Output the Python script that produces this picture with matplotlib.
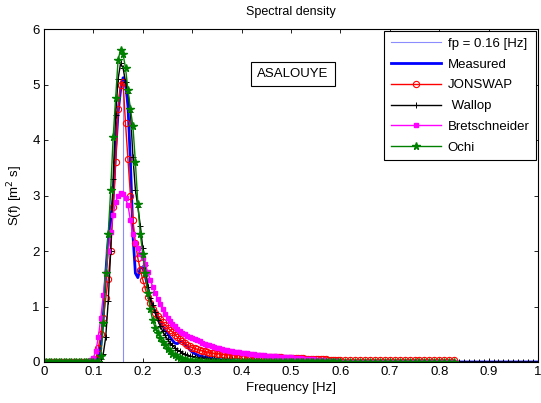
import numpy as np
import matplotlib
matplotlib.use("Agg")
import matplotlib.pyplot as plt

plt.rcParams['font.family'] = ['Liberation Sans', 'DejaVu Sans']

# ---------------- data ----------------
fp = 0.16
fp_top = 5.15

# model frequency grid pieces
f_low = np.round(np.arange(0.0, 0.0901, 0.005), 4)          # 19 pts
f_mid = np.round(np.arange(0.095, 0.5951, 0.005), 4)        # 101 pts
f_high = np.round(np.arange(0.60, 0.8301, 0.01), 4)         # 24 pts
f_high_w = np.round(np.arange(0.60, 1.0001, 0.01), 4)       # 41 pts (Wallop)

jonswap_mid = [
    0.0, 0.01, 0.06, 0.25, 0.50, 0.80, 1.15, 1.50, 2.00, 2.80, 3.60, 4.55, 5.00, 5.05,
    4.30, 3.65, 3.00, 2.55, 2.15, 1.87, 1.66, 1.48,
    1.32, 1.18, 1.06, 0.96, 0.89, 0.83, 0.77, 0.72, 0.67, 0.62, 0.58, 0.54, 0.49, 0.45,
    0.41, 0.37, 0.34, 0.31, 0.28, 0.26,
    0.245, 0.23, 0.215, 0.20, 0.19, 0.18, 0.17, 0.16, 0.155, 0.15, 0.145, 0.14, 0.135,
    0.132, 0.13, 0.127, 0.124, 0.121, 0.118, 0.115,
    0.112, 0.11, 0.108, 0.106, 0.104, 0.102, 0.10, 0.098, 0.096, 0.094, 0.092, 0.09,
    0.088, 0.086, 0.084, 0.082, 0.08, 0.078, 0.076, 0.074,
    0.072, 0.07, 0.068, 0.066, 0.064, 0.062, 0.06, 0.058, 0.056, 0.054, 0.052, 0.05,
    0.048, 0.046, 0.044, 0.042, 0.04, 0.038, 0.036]
jonswap_high = [0.035, 0.035, 0.035, 0.035, 0.035, 0.035, 0.035, 0.035, 0.035, 0.035,
                0.035, 0.035, 0.035, 0.035, 0.035, 0.035, 0.035, 0.035, 0.035, 0.035,
                0.035, 0.035, 0.035, 0.035]

wallop_mid = [
    0.0, 0.0, 0.0, 0.01, 0.05, 0.15, 0.45, 1.10, 2.00, 3.30, 4.45, 5.10, 5.38, 5.30,
    5.05, 4.85, 4.50, 3.70, 3.10, 2.80, 2.45, 2.05,
    1.75, 1.35, 1.15, 1.02, 0.90, 0.76, 0.65, 0.56, 0.48, 0.41, 0.35, 0.30, 0.26, 0.22,
    0.19, 0.165, 0.145, 0.125, 0.11, 0.10,
    0.09, 0.083, 0.077, 0.071, 0.066, 0.061, 0.056, 0.052, 0.048, 0.044, 0.041, 0.038,
    0.035, 0.032, 0.03, 0.028, 0.026, 0.024, 0.022, 0.02,
    0.019, 0.018, 0.017, 0.016, 0.015, 0.014, 0.013, 0.012, 0.011, 0.01, 0.01, 0.009,
    0.009, 0.008, 0.008, 0.007, 0.007, 0.006, 0.006, 0.005,
    0.005, 0.005, 0.004, 0.004, 0.004, 0.004, 0.003, 0.003, 0.003, 0.003, 0.003, 0.002,
    0.002, 0.002, 0.002, 0.002, 0.002, 0.001, 0.001]

bret_mid = [
    0.03, 0.08, 0.20, 0.45, 0.80, 1.20, 1.60, 2.00, 2.35, 2.65, 2.88, 3.00, 3.05, 3.02,
    2.95, 2.82, 2.55, 2.30, 2.15, 2.05, 1.95, 1.87,
    1.76, 1.62, 1.48, 1.36, 1.25, 1.14, 1.04, 0.95, 0.87, 0.80, 0.74, 0.69, 0.64, 0.60,
    0.56, 0.53, 0.50, 0.47, 0.45, 0.43,
    0.41, 0.39, 0.37, 0.35, 0.33, 0.315, 0.30, 0.285, 0.27, 0.257, 0.245, 0.234, 0.223,
    0.213, 0.204, 0.196, 0.188, 0.181, 0.174, 0.168,
    0.162, 0.156, 0.15, 0.145, 0.14, 0.135, 0.13, 0.125, 0.12, 0.116, 0.112, 0.108,
    0.104, 0.10, 0.097, 0.094, 0.091, 0.088, 0.085, 0.082,
    0.078, 0.074, 0.07, 0.066, 0.062, 0.058, 0.054, 0.05, 0.046, 0.042, 0.038, 0.034,
    0.03, 0.027, 0.024, 0.021, 0.018, 0.015, 0.012]

ochi_mid = [
    0.0, 0.0, 0.0, 0.0, 0.10, 0.70, 1.60, 2.30, 3.10, 4.05, 4.75, 5.45, 5.62, 5.55,
    5.30, 4.90, 4.55, 4.25, 3.60, 2.85, 2.30, 1.95,
    1.60, 1.25, 0.96, 0.75, 0.62, 0.52, 0.44, 0.36, 0.30, 0.24, 0.19, 0.15, 0.12, 0.095,
    0.075, 0.06, 0.045, 0.035, 0.027, 0.02,
    0.016, 0.013, 0.01, 0.008, 0.006, 0.005, 0.004, 0.003, 0.002, 0.002, 0.001, 0.001,
    0.001, 0.0, 0.0, 0.0, 0.0, 0.0, 0.0, 0.0,
    0.0, 0.0, 0.0, 0.0, 0.0, 0.0, 0.0, 0.0, 0.0, 0.0, 0.0, 0.0, 0.0, 0.0, 0.0, 0.0,
    0.0, 0.0, 0.0, 0.0,
    0.0, 0.0, 0.0, 0.0, 0.0, 0.0, 0.0, 0.0, 0.0, 0.0, 0.0, 0.0, 0.0, 0.0, 0.0, 0.0,
    0.0, 0.0, 0.0]

zeros_low = [0.0] * len(f_low)
zeros_high = [0.0] * len(f_high)
zeros_high_w = [0.0] * len(f_high_w)

# measured spectrum
f_meas_mid = np.round(np.arange(0.095, 0.4501, 0.005), 4)   # 72 pts
meas_mid = [
    0.0, 0.01, 0.03, 0.10, 0.30, 0.80, 1.60, 2.20, 2.60, 2.95, 3.80, 4.50, 4.90, 5.12,
    5.05, 4.60, 3.60, 2.30, 1.60, 1.52, 1.70, 1.70,
    1.55, 1.35, 1.12, 1.00, 0.90, 0.82, 0.75, 0.65, 0.58, 0.52, 0.45, 0.39, 0.34, 0.33,
    0.36, 0.37, 0.33, 0.28, 0.22, 0.18,
    0.15, 0.13, 0.11, 0.10, 0.09, 0.08, 0.07, 0.062, 0.055, 0.05, 0.045, 0.04, 0.036,
    0.032, 0.028, 0.025, 0.022, 0.02, 0.018, 0.016,
    0.015, 0.014, 0.013, 0.012, 0.011, 0.01, 0.009, 0.008, 0.007, 0.006]
f_meas_lo = [0.0, 0.05, 0.09]
meas_lo = [0.0, 0.0, 0.0]
f_meas_hi = [0.5, 0.6, 0.7, 0.8, 0.9, 1.0]
meas_hi = [0.0, 0.0, 0.0, 0.0, 0.0, 0.0]

x_ticks = [0, 0.1, 0.2, 0.3, 0.4, 0.5, 0.6, 0.7, 0.8, 0.9, 1]
x_ticklabels = ['0', '0.1', '0.2', '0.3', '0.4', '0.5', '0.6', '0.7', '0.8', '0.9', '1']
y_ticks = [0, 1, 2, 3, 4, 5, 6]

# ---------------- assemble ----------------
f_model = np.concatenate([f_low, f_mid, f_high])
f_wall = np.concatenate([f_low, f_mid, f_high_w])
jonswap = np.concatenate([zeros_low, jonswap_mid, jonswap_high])
wallop = np.concatenate([zeros_low, wallop_mid, zeros_high_w])
bret = np.concatenate([zeros_low, bret_mid, zeros_high])
ochi = np.concatenate([zeros_low, ochi_mid, zeros_high])
f_meas = np.concatenate([f_meas_lo, f_meas_mid, f_meas_hi])
meas = np.concatenate([meas_lo, meas_mid, meas_hi])

# ---------------- plot ----------------
fig = plt.figure(figsize=(5.41, 4.03), dpi=100)
ax = fig.add_axes([44 / 541, 41 / 403, 494 / 541, 333 / 403])

ax.plot([fp, fp], [0, fp_top], color='#8c8cff', lw=0.8, label='fp = 0.16 [Hz]')
ax.plot(f_meas, meas, color='#0000ff', lw=2.0, label='Measured')
ax.plot(f_model, jonswap, color='#ff0000', lw=1.0, marker='o', ms=4.5,
        mfc='none', mec='#ff0000', mew=0.8, label='JONSWAP')
ax.plot(f_wall, wallop, color='black', lw=1.0, marker='+', ms=5, mew=0.7,
        label=' Wallop')
ax.plot(f_model, bret, color='#ff00ff', lw=1.0, marker='s', ms=2.2,
        mfc='#ff00ff', mec='#ff00ff', label='Bretschneider')
ax.plot(f_model, ochi, color='#008000', lw=1.0, marker='*', ms=5.5,
        mfc='#008000', mec='#008000', label='Ochi')

ax.set_xlim(0, 1)
ax.set_ylim(0, 6)
ax.set_xticks(x_ticks)
ax.set_xticklabels(x_ticklabels)
ax.set_yticks(y_ticks)
ax.tick_params(direction='in', top=True, right=True, length=3, width=0.6,
               labelsize=9.5, pad=3)
for s in ax.spines.values():
    s.set_linewidth(0.8)

ax.set_title('Spectral density', fontsize=9, pad=10)
ax.set_xlabel('Frequency [Hz]', fontsize=9.5, labelpad=3)
ax.set_ylabel('S(f) [m$^2$ s]', fontsize=9.5, labelpad=5)

ax.text(0.504, 5.19, 'ASALOUYE', ha='center', va='center', fontsize=9.5,
        bbox=dict(boxstyle='square,pad=0.45', fc='white', ec='black', lw=0.8))

leg = ax.legend(loc='upper right', fontsize=9.5, frameon=True, fancybox=False,
                framealpha=1, edgecolor='black', borderaxespad=0.15,
                handlelength=3.8, labelspacing=0.65, borderpad=0.5,
                handletextpad=0.5)
leg.get_frame().set_linewidth(0.8)

fig.savefig('out.png', dpi=100)
